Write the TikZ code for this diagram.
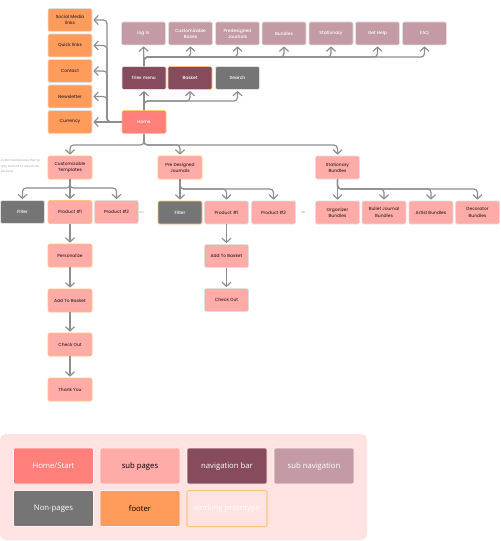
\documentclass[tikz,border=0pt]{standalone}
\usepackage{fontspec}
\setmainfont{Poppins Medium}
\newfontfamily\legendfont{Open Sans}
\usetikzlibrary{arrows.meta}
\definecolor{homefill}{HTML}{FF7F7A}
\definecolor{subfill}{HTML}{FFABA8}
\definecolor{navfill}{HTML}{874B5E}
\definecolor{subnavfill}{HTML}{C49BA4}
\definecolor{nonfill}{HTML}{757575}
\definecolor{footfill}{HTML}{FF9C5B}
\definecolor{protoline}{HTML}{FFC67E}
\definecolor{boxline}{HTML}{E0E0E0}
\definecolor{linkgray}{HTML}{8E8E8E}
\definecolor{legendbg}{HTML}{FFE3E3}
\definecolor{darktext}{HTML}{3A2626}
\tikzset{
  box/.style={draw=boxline,line width=0.8pt,rounded corners=2pt,minimum width=2.2cm,minimum height=1.15cm,align=center,font=\fontsize{6.3}{9}\selectfont},
  home/.style={box,fill=homefill,text=white},
  subpage/.style={box,fill=subfill,text=darktext},
  navbar/.style={box,fill=navfill,text=white},
  subnav/.style={box,fill=subnavfill,text=white},
  nonpage/.style={box,fill=nonfill,text=white},
  footer/.style={box,fill=footfill,text=darktext},
  proto/.style={draw=protoline},
  legbox/.style={minimum width=4cm,minimum height=1.8cm,draw=white!60!legendbg,font=\legendfont\fontsize{11}{13}\selectfont},
  note/.style={text=black!30,font=\fontsize{4.2}{8}\selectfont,align=left,inner sep=1pt},
  link/.style={draw=linkgray,line width=1.7pt,rounded corners=5pt,-{Straight Barb[length=6pt,width=13pt]},shorten >=1.5pt}
}

\begin{document}
\begin{tikzpicture}[x=0.05cm,y=-0.05cm]
  \useasboundingbox (0,0) rectangle (500,541);

  % footer column
  \node[footer] (social) at (70,20) {Social Media\\links};
  \node[footer] (quick) at (70,45.5) {Quick links};
  \node[footer] (contact) at (70,71) {Contact};
  \node[footer] (news) at (70,96.5) {Newsletter};
  \node[footer] (currency) at (70,122) {Currency};

  \node[home,proto] (home) at (144,122) {Home};

  % navigation
  \node[navbar] (fries) at (144,78) {fries menu};
  \node[navbar,proto] (basket) at (190,78) {Basket};
  \node[nonpage] (search) at (237.5,78) {Search};

  \node[subnav] (login) at (143.5,33.5) {log in};
  \node[subnav] (bases) at (190.5,33.5) {Customizable\\Bases};
  \node[subnav] (predes) at (237.5,33.5) {Predesigned\\Journals};
  \node[subnav] (bundles) at (284,33.5) {Bundles};
  \node[subnav] (stationary) at (331,33.5) {Stationary};
  \node[subnav] (gethelp) at (377.5,33.5) {Get Help};
  \node[subnav] (faq) at (424.5,33.5) {FAQ};

  % sections
  \node[subpage,proto] (tmpl) at (70,167.5) {Customizable\\Templates};
  \node[subpage,proto] (journals) at (180,167.5) {Pre Designed\\Journals};
  \node[subpage] (statbund) at (337.5,167.5) {Stationary\\Bundles};
  \node[note,anchor=west] (tmplnote) at (0,166) {customizable base theme\\only buttons to unlock out\\sections};

  \node[nonpage] (filterA) at (22.5,212) {Filter};
  \node[subpage,proto] (prodA1) at (70,212) {Product \#1};
  \node[subpage] (prodA2) at (116.5,212) {Product \#2};
  \node[note] (etc) at (142,212) {etc};

  \node[nonpage,proto] (filterB) at (180,212.5) {Filter};
  \node[subpage] (prodB1) at (226.5,212.5) {Product \#1};
  \node[subpage] (prodB2) at (273.5,212.5) {Product \#2};
  \node[note] (orB) at (303,212.5) {OR};

  \node[subpage] (organizer) at (337.5,212.5) {Organizer\\Bundles};
  \node[subpage] (bullet) at (384,212.5) {Bullet Journal\\Bundles};
  \node[subpage] (artist) at (431,212.5) {Artist Bundles};
  \node[subpage] (decorator) at (477.5,212.5) {Decorator\\Bundles};

  \node[subpage,proto] (personalize) at (70,255.5) {Personalize};
  \node[subpage,proto] (basketA) at (70,300.5) {Add To Basket};
  \node[subpage,proto] (checkA) at (70,344.5) {Check Out};
  \node[subpage,proto] (thanks) at (70,389.5) {Thank You};

  \node[subpage] (basketB) at (226.5,256) {Add To Basket};
  \node[subpage] (checkB) at (226.5,300) {Check Out};

  % split points
  \coordinate (navtop) at (144,57);
  \coordinate (navmid) at (144,101);
  \coordinate (foottrunk) at (107,122);
  \coordinate (homesplit) at (144,145);
  \coordinate (tmplsplit) at (70,188);
  \coordinate (jrnsplit) at (180,189);
  \coordinate (statsplit) at (337.5,189);

  \draw[link] (fries.north) -- (login.south);
  \foreach \n in {bases,predes,bundles,stationary,gethelp,faq}
    \draw[link] (fries.north) |- (navtop -| \n) -- (\n.south);
  \draw[link] (home.north) -- (fries.south);
  \foreach \n in {basket,search}
    \draw[link] (home.north) |- (navmid -| \n) -- (\n.south);

  \draw[link] (home.west) -- (currency.east);
  \foreach \n in {social,quick,contact,news}
    \draw[link] (home.west) -| (foottrunk |- \n) -- (\n.east);

  \foreach \n in {tmpl,journals,statbund}
    \draw[link] (home.south) |- (homesplit -| \n) -- (\n.north);

  \draw[link] (tmpl.south) -- (prodA1.north);
  \foreach \n in {filterA,prodA2}
    \draw[link] (tmpl.south) |- (tmplsplit -| \n) -- (\n.north);
  \draw[link] (journals.south) -- (filterB.north);
  \foreach \n in {prodB1,prodB2}
    \draw[link] (journals.south) |- (jrnsplit -| \n) -- (\n.north);
  \draw[link] (statbund.south) -- (organizer.north);
  \foreach \n in {bullet,artist,decorator}
    \draw[link] (statbund.south) |- (statsplit -| \n) -- (\n.north);

  \draw[link] (prodA1.south) -- (personalize.north);
  \draw[link] (personalize.south) -- (basketA.north);
  \draw[link] (basketA.south) -- (checkA.north);
  \draw[link] (checkA.south) -- (thanks.north);
  \draw[link] (prodB1.south) -- (basketB.north);
  \draw[link] (basketB.south) -- (checkB.north);

  % legend
  \fill[legendbg,rounded corners=8pt] (0,434) rectangle (367,540);
  \node[home,legbox] (keyhome) at (53.5,466) {Home/Start};
  \node[subpage,legbox,text=black] (keysub) at (140,466) {sub pages};
  \node[navbar,legbox] (keynav) at (227,466) {navigation bar};
  \node[subnav,legbox] (keysubnav) at (314,466) {sub navigation};
  \node[nonpage,legbox] (keynon) at (53.5,508.5) {Non-pages};
  \node[footer,legbox,text=black] (keyfoot) at (140,508.5) {footer};
  \node[box,legbox,fill=legendbg,draw=protoline,line width=1.5pt,text=white] (keyproto) at (227,508.5) {working prototype};
\end{tikzpicture}
\end{document}
